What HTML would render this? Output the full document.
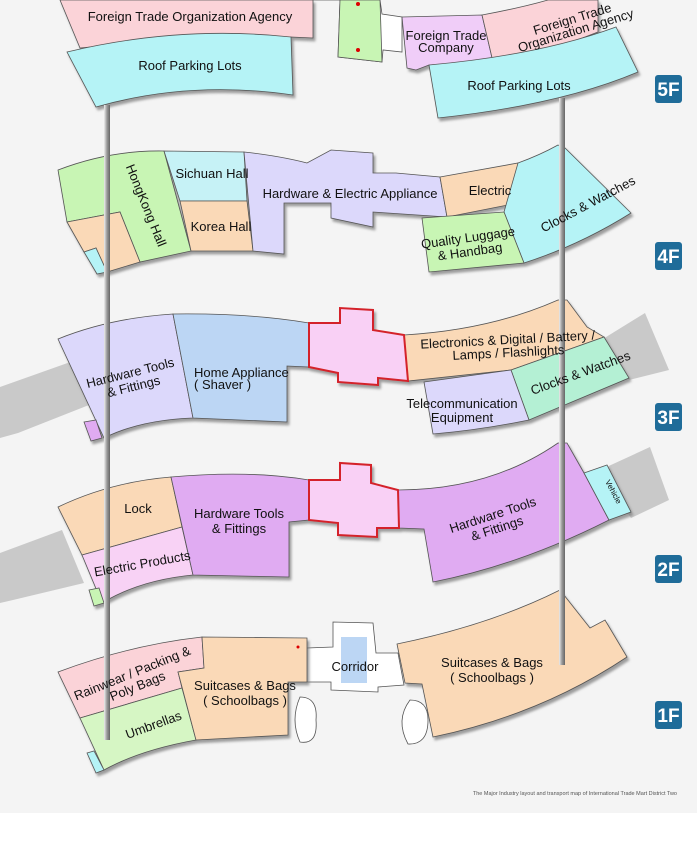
<!DOCTYPE html>
<html><head><meta charset="utf-8"><style>
html,body{margin:0;padding:0;background:#fff;}
svg{display:block;}
text{font-family:"Liberation Sans",Arial,sans-serif;font-size:13px;fill:#111;}
.fl{font-family:"Liberation Sans",sans-serif;font-weight:bold;font-size:19px;fill:#fff;}
</style></head><body>
<svg width="697" height="853" viewBox="0 0 697 853" xmlns="http://www.w3.org/2000/svg">
<defs>
<filter id="sh" x="-10%" y="-10%" width="130%" height="130%">
<feDropShadow dx="2" dy="3" stdDeviation="1.2" flood-color="#777" flood-opacity="0.7"/>
</filter>
<linearGradient id="pil" x1="0" x2="1"><stop offset="0" stop-color="#eee"/><stop offset="0.5" stop-color="#999"/><stop offset="1" stop-color="#666"/></linearGradient>
</defs>
<rect x="0" y="0" width="697" height="813" fill="#f4f4f4"/>
<g stroke="#555" stroke-width="0.8">

<!-- 5F left -->
<g filter="url(#sh)">
<path d="M60,0 L313,0 L313,38 L291,37 Q180,38 80,48 Z" fill="#fbd3d8"/>
<path d="M67,52 Q180,25 291,37 L293,95 Q190,80 96,107 Z" fill="#b5f3f6"/>
</g>
<!-- 5F center -->
<path d="M313,0 L340,0 L338,57 L382,62 L383,50 L402,52 L402,17 L382,14 L380,0 L340,0" fill="#fff"/>
<path d="M340,0 L380,0 L382,62 L338,57 Z" fill="#c8f5b4"/>
<circle cx="358" cy="4" r="2" fill="#d00" stroke="none"/>
<circle cx="358" cy="50" r="2" fill="#d00" stroke="none"/>
<!-- 5F right -->
<g filter="url(#sh)">
<path d="M402,17 L482,15 L493,62 L429,65 L416,70 L407,68 Z" fill="#f0cdf8"/>
<path d="M482,15 Q520,8 548,0 L598,0 L598,32 Q540,55 493,62 Z" fill="#fbd3d8"/>
<path d="M429,65 Q540,55 616,27 L638,72 Q560,105 438,118 Z" fill="#b5f3f6"/>
</g>

<!-- 4F -->
<g filter="url(#sh)">
<path d="M58,170 Q110,150 164,151 L191,251 L140,262 L120,212 L67,222 Z" fill="#c8f5b4"/>
<path d="M67,222 L120,212 L140,262 L107,272 L96,248 L84,252 Z" fill="#fad9b7"/>
<path d="M84,252 L96,248 L107,272 L97,274 Z" fill="#b5f3f6"/>
<path d="M164,151 L244,152 L247,201 L180,201 Z" fill="#c6f2f6"/>
<path d="M180,201 L247,201 L253,251 L191,251 Z" fill="#fad9b7"/>
<path d="M244,152 Q280,156 307,163 L331,150 L373,153 L373,173 L396,173 L440,177 L447,217 L373,212 L373,227 L331,218 L331,203 L284,203 L284,254 L253,251 Z" fill="#dcd8fb"/>
<path d="M440,177 L518,163 L533,200 L447,217 Z" fill="#fad9b7"/>
<path d="M518,163 Q540,155 558,145 L564,147 L631,213 Q580,245 524,263 L504,212 Z" fill="#b5f3f6"/>
<path d="M422,218 L504,212 L524,263 L429,272 Z" fill="#c8f5b4"/>
</g>

<!-- 3F gray corridors -->
<path d="M0,387 L76,360 L89,405 L18,433 L0,438 Z" fill="#c9c9c9" stroke="none"/>
<path d="M598,342 L645,313 L669,370 L629,380 Z" fill="#c9c9c9" stroke="none"/>
<g filter="url(#sh)">
<path d="M58,339 Q110,318 173,314 L193,418 Q140,420 104,438 Z" fill="#dcd8fb"/>
<path d="M84,422 L96,420 L102,438 L91,441 Z" fill="#e0abf2"/>
<path d="M173,314 Q250,313 309,323 L309,367 L287,366 L287,422 L193,418 Z" fill="#bcd6f4"/>
<path d="M404,335 Q490,330 558,300 L567,300 L587,327 L604,337 L511,370 L408,381 Z" fill="#fad9b7"/>
<path d="M511,370 L604,337 L629,378 L529,420 Z" fill="#b4f0d4"/>
<path d="M424,382 L511,370 L529,420 Q480,430 433,434 Z" fill="#dcd8fb"/>
<path d="M309,323 L340,323 L340,308 L373,310 L373,330 L404,335 L408,381 L378,378 L378,385 L338,382 L338,373 L309,367 Z" fill="#f9d0f5" stroke="#d4242a" stroke-width="2"/>
</g>

<!-- 2F gray -->
<path d="M0,553 L62,530 L84,583 L13,600 L0,603 Z" fill="#c9c9c9" stroke="none"/>
<path d="M600,470 L650,447 L669,500 L631,518 Z" fill="#c9c9c9" stroke="none"/>
<g filter="url(#sh)">
<path d="M58,507 Q110,482 171,477 L182,527 L82,555 Z" fill="#fad9b7"/>
<path d="M82,555 L182,527 L193,575 Q140,580 102,603 Z" fill="#f8d2f5"/>
<path d="M89,590 L99,588 L104,603 L94,606 Z" fill="#c8f5b4"/>
<path d="M171,477 Q250,470 309,480 L309,520 L289,522 L289,577 L193,575 Z" fill="#e0abf2"/>
<path d="M398,490 Q490,490 558,443 L567,443 L584,473 L609,520 Q520,565 433,582 L424,529 L399,528 Z" fill="#e0abf2"/>
<path d="M584,473 L607,465 L631,512 L609,520 Z" fill="#b5f3f6"/>
<path d="M309,480 L340,480 L340,463 L371,465 L371,483 L398,490 L399,528 L377,528 L377,537 L338,535 L338,523 L309,520 Z" fill="#f9d0f5" stroke="#d4242a" stroke-width="2"/>
</g>

<!-- 1F -->
<path d="M307,648 L333,647 L333,622 L373,623 L376,653 L398,653 L404,685 L378,687 L378,692 L331,690 L331,682 L307,682 Z" fill="#fff"/>
<rect x="341" y="637" width="26" height="46" fill="#bcd6f4" stroke="none"/>
<path d="M300,697 Q290,720 300,742 Q318,745 316,720 Q318,697 300,697 Z" fill="#fff"/>
<path d="M410,700 Q395,720 408,744 Q428,745 428,720 Q428,700 410,700 Z" fill="#fff"/>
<g filter="url(#sh)">
<path d="M58,672 Q130,645 202,637 L204,668 L178,672 L182,688 L80,718 Z" fill="#fbd3d8"/>
<path d="M80,718 L182,688 L196,740 Q140,750 104,770 Z" fill="#d6f6c4"/>
<path d="M87,753 L94,751 L104,770 L96,773 Z" fill="#b5f3f6"/>
<path d="M202,637 L307,638 L307,682 L288,682 L288,735 L196,740 L178,672 L204,668 Z" fill="#fad9b7"/>
<circle cx="298" cy="647" r="1.5" fill="#d00" stroke="none"/>
<path d="M397,644 Q490,625 560,590 L590,628 L605,620 L627,657 Q540,715 433,737 L422,684 L405,683 Z" fill="#fad9b7"/>
</g>
</g>

<!-- pillars -->
<rect x="104" y="105" width="6" height="635" fill="url(#pil)"/>
<rect x="559" y="98" width="6" height="567" fill="url(#pil)"/>

<!-- floor labels -->
<g>
<rect x="655" y="75" width="27" height="28" rx="3" fill="#1f6c99"/><text class="fl" x="668.5" y="96" text-anchor="middle">5F</text>
<rect x="655" y="242" width="27" height="28" rx="3" fill="#1f6c99"/><text class="fl" x="668.5" y="263" text-anchor="middle">4F</text>
<rect x="655" y="403" width="27" height="28" rx="3" fill="#1f6c99"/><text class="fl" x="668.5" y="424" text-anchor="middle">3F</text>
<rect x="655" y="555" width="27" height="28" rx="3" fill="#1f6c99"/><text class="fl" x="668.5" y="576" text-anchor="middle">2F</text>
<rect x="655" y="701" width="27" height="28" rx="3" fill="#1f6c99"/><text class="fl" x="668.5" y="722" text-anchor="middle">1F</text>
</g>

<!-- labels -->
<text x="190" y="21" text-anchor="middle">Foreign Trade Organization Agency</text>
<text x="190" y="70" text-anchor="middle">Roof Parking Lots</text>
<text x="446" y="40" text-anchor="middle">Foreign Trade</text>
<text x="446" y="52" text-anchor="middle">Company</text>
<text transform="translate(575,28) rotate(-17)" text-anchor="middle"><tspan x="0" y="-5">Foreign Trade</tspan><tspan x="0" y="7">Organization Agency</tspan></text>
<text x="519" y="90" text-anchor="middle">Roof Parking Lots</text>

<text transform="translate(142,207) rotate(68)" text-anchor="middle">HongKong Hall</text>
<text x="212" y="178" text-anchor="middle">Sichuan Hall</text>
<text x="221" y="231" text-anchor="middle">Korea Hall</text>
<text x="350" y="198" text-anchor="middle">Hardware &amp; Electric Appliance</text>
<text x="490" y="195" text-anchor="middle">Electric</text>
<text transform="translate(469,245) rotate(-8)" text-anchor="middle"><tspan x="0" y="-3">Quality Luggage</tspan><tspan x="0" y="11">&amp; Handbag</tspan></text>
<text transform="translate(590,208) rotate(-28)" text-anchor="middle">Clocks &amp; Watches</text>

<text transform="translate(132,380) rotate(-14)" text-anchor="middle"><tspan x="0" y="-3">Hardware Tools</tspan><tspan x="0" y="11">&amp; Fittings</tspan></text>
<text x="194" y="377">Home Appliance</text>
<text x="194" y="389">( Shaver )</text>
<text transform="translate(508,345) rotate(-3)" text-anchor="middle"><tspan x="0" y="-1">Electronics &amp; Digital / Battery /</tspan><tspan x="0" y="12">Lamps / Flashlights</tspan></text>
<text x="462" y="408" text-anchor="middle">Telecommunication</text>
<text x="462" y="422" text-anchor="middle">Equipment</text>
<text transform="translate(582,377) rotate(-20)" text-anchor="middle">Clocks &amp; Watches</text>

<text x="138" y="513" text-anchor="middle">Lock</text>
<text x="239" y="518" text-anchor="middle">Hardware Tools</text>
<text x="239" y="533" text-anchor="middle">&amp; Fittings</text>
<text transform="translate(143,568) rotate(-10)" text-anchor="middle">Electric Products</text>
<text transform="translate(495,522) rotate(-18)" text-anchor="middle"><tspan x="0" y="-3">Hardware Tools</tspan><tspan x="0" y="11">&amp; Fittings</tspan></text>
<text transform="translate(611,493) rotate(62)" text-anchor="middle" style="font-size:8px">Vehicle</text>

<text transform="translate(135,680) rotate(-22)" text-anchor="middle"><tspan x="0" y="-3">Rainwear / Packing &amp;</tspan><tspan x="0" y="11">Poly Bags</tspan></text>
<text transform="translate(155,729) rotate(-20)" text-anchor="middle">Umbrellas</text>
<text x="245" y="690" text-anchor="middle">Suitcases &amp; Bags</text>
<text x="245" y="705" text-anchor="middle">( Schoolbags )</text>
<text x="355" y="671" text-anchor="middle">Corridor</text>
<text x="492" y="667" text-anchor="middle">Suitcases &amp; Bags</text>
<text x="492" y="682" text-anchor="middle">( Schoolbags )</text>

<text x="677" y="795" text-anchor="end" style="font-size:5.5px;fill:#555">The Major Industry layout and transport map of International Trade Mart District Two</text>
</svg>
</body></html>
